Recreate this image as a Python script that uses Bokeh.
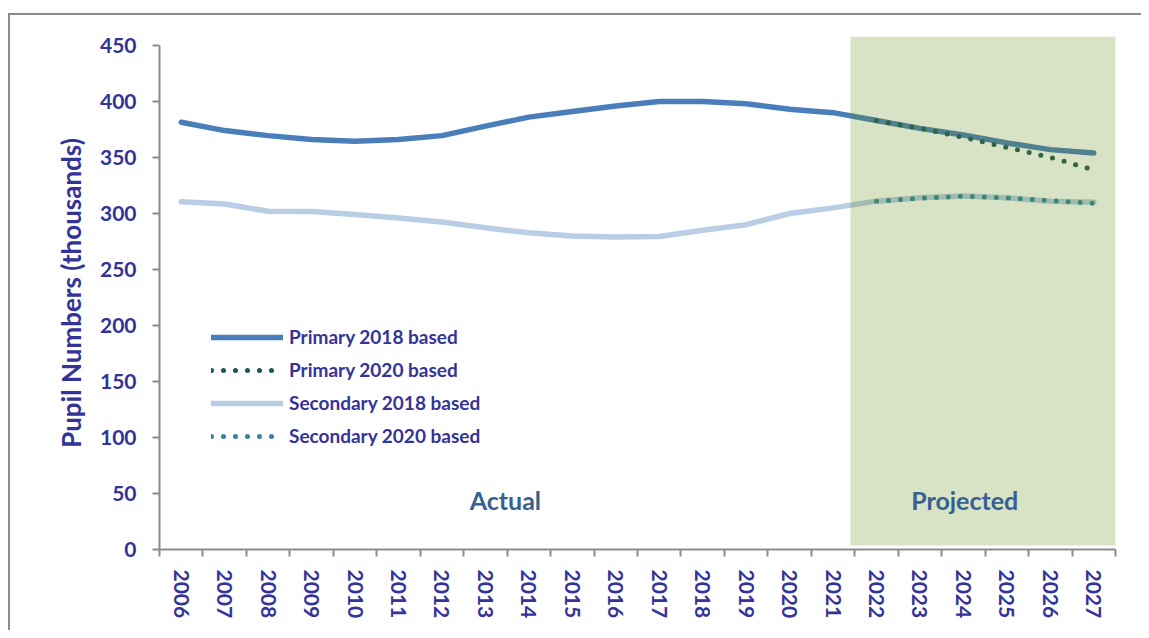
from bokeh.plotting import figure
from bokeh.models import (ColumnDataSource, FixedTicker, Range1d, Legend, LegendItem)
from bokeh.layouts import column
from bokeh.embed import file_html
from bokeh.resources import INLINE
from bokeh.core.properties import value

# ---------------- data ----------------
years = ["2006", "2007", "2008", "2009", "2010", "2011", "2012", "2013", "2014", "2015", "2016",
         "2017", "2018", "2019", "2020", "2021", "2022", "2023", "2024", "2025", "2026", "2027"]
primary_2018 = [381.5, 374, 369.5, 366, 364.5, 366, 369.5, 378, 386, 391, 396,
                400, 400, 398, 393, 390, 383, 376, 370, 363, 357, 354]
secondary_2018 = [310.5, 308.5, 302, 301.8, 299, 296, 292.3, 287.2, 282.7, 279.8, 279,
                  279.5, 285, 290, 300, 305, 311, 314, 315.5, 314, 311, 310]
proj_years = ["2022", "2023", "2024", "2025", "2026", "2027"]
primary_2020 = [383, 376, 368, 359, 350, 339]
secondary_2020 = [311, 313.5, 315.5, 314, 311.5, 309]
y_ticks = [0, 50, 100, 150, 200, 250, 300, 350, 400, 450]

idx = {y: i for i, y in enumerate(years)}
src18 = ColumnDataSource(dict(x=[idx[y] for y in years], p=primary_2018, s=secondary_2018))
src20 = ColumnDataSource(dict(x=[idx[y] for y in proj_years], p=primary_2020, s=secondary_2020))

TXT = "#333399"
FONT = "Lato"
AXC = "#8c8c8c"

p = figure(width=1131, height=615, output_backend="svg", toolbar_location=None,
           x_range=Range1d(-0.5, len(years) - 0.5), y_range=Range1d(0, 458),
           min_border_left=149, min_border_right=26, min_border_top=21, min_border_bottom=81)
p.grid.visible = False
p.outline_line_color = None
p.background_fill_color = "white"
p.border_fill_color = "white"

# x axis: labels at category centres, ticks at boundaries
xa = p.xaxis[0]
xa.ticker = FixedTicker(ticks=list(range(len(years))),
                        minor_ticks=[i - 0.5 for i in range(len(years) + 1)])
xa.major_label_overrides = {i: y for i, y in enumerate(years)}
xa.major_label_orientation = "vertical"
xa.major_tick_out = 0
xa.major_tick_in = 0
xa.minor_tick_out = 7
xa.minor_tick_in = 0
xa.minor_tick_line_color = AXC
xa.minor_tick_line_width = 2
xa.axis_line_color = AXC
xa.axis_line_width = 2
xa.major_label_standoff = 13
xa.major_label_text_font = FONT
xa.major_label_text_font_style = "bold"
xa.major_label_text_font_size = "21px"
xa.major_label_text_color = TXT

ya = p.yaxis[0]
ya.ticker = FixedTicker(ticks=y_ticks, minor_ticks=[])
ya.bounds = (0, 450)
ya.major_tick_out = 7
ya.major_tick_in = 0
ya.major_tick_line_color = AXC
ya.major_tick_line_width = 2
ya.axis_line_color = AXC
ya.axis_line_width = 2
ya.major_label_standoff = 16
ya.major_label_text_font = FONT
ya.major_label_text_font_style = "bold"
ya.major_label_text_font_size = "21px"
ya.major_label_text_color = TXT
ya.axis_label = "Pupil Numbers (thousands)"
ya.axis_label_text_font = FONT
ya.axis_label_text_font_style = "bold"
ya.axis_label_text_font_size = "26px"
ya.axis_label_text_color = TXT
ya.axis_label_standoff = 10

# lines
r_p18 = p.line("x", "p", source=src18, line_color="#4a7ebb", line_width=5.5,
               line_cap="round", line_join="round")
r_s18 = p.line("x", "s", source=src18, line_color="#b9cde5", line_width=5.5,
               line_cap="round", line_join="round")
r_p20 = p.line("x", "p", source=src20, line_color="#1f5555", line_width=5,
               line_dash="0 12", line_cap="round")
r_s20 = p.line("x", "s", source=src20, line_color="#31859c", line_width=5,
               line_dash="0 12", line_cap="round")

# projected shading (semi-transparent, drawn over the lines)
p.quad(left=[15.4], right=[21.52], bottom=[3.5], top=[458],
       fill_color="#648a14", fill_alpha=0.25, line_color=None)

p.text(x=[7.46], y=[44], text=["Actual"], text_align="center", text_baseline="middle",
       text_font=value(FONT), text_font_style="bold", text_font_size="25px",
       text_color="#376092")
p.text(x=[18.03], y=[44], text=["Projected"], text_align="center", text_baseline="middle",
       text_font=value(FONT), text_font_style="bold", text_font_size="25px",
       text_color="#376092")

legend = Legend(items=[
    LegendItem(label="Primary 2018 based", renderers=[r_p18]),
    LegendItem(label="Primary 2020 based", renderers=[r_p20]),
    LegendItem(label="Secondary 2018 based", renderers=[r_s18]),
    LegendItem(label="Secondary 2020 based", renderers=[r_s20]),
], location=(52, 102))
legend.glyph_width = 72
legend.glyph_height = 20
legend.label_height = 20
legend.spacing = 10
legend.label_standoff = 6
legend.padding = 0
legend.margin = 0
legend.border_line_color = None
legend.background_fill_alpha = 0
legend.label_text_font = FONT
legend.label_text_font_style = "bold"
legend.label_text_font_size = "19px"
legend.label_text_color = TXT
p.add_layout(legend, "center")

layout = column(p, styles={"border-top": "2px solid #8c8c8c", "border-left": "2px solid #8c8c8c",
                           "margin-top": "13px", "margin-left": "8px"})

open("out.html", "w").write(file_html(layout, INLINE))
